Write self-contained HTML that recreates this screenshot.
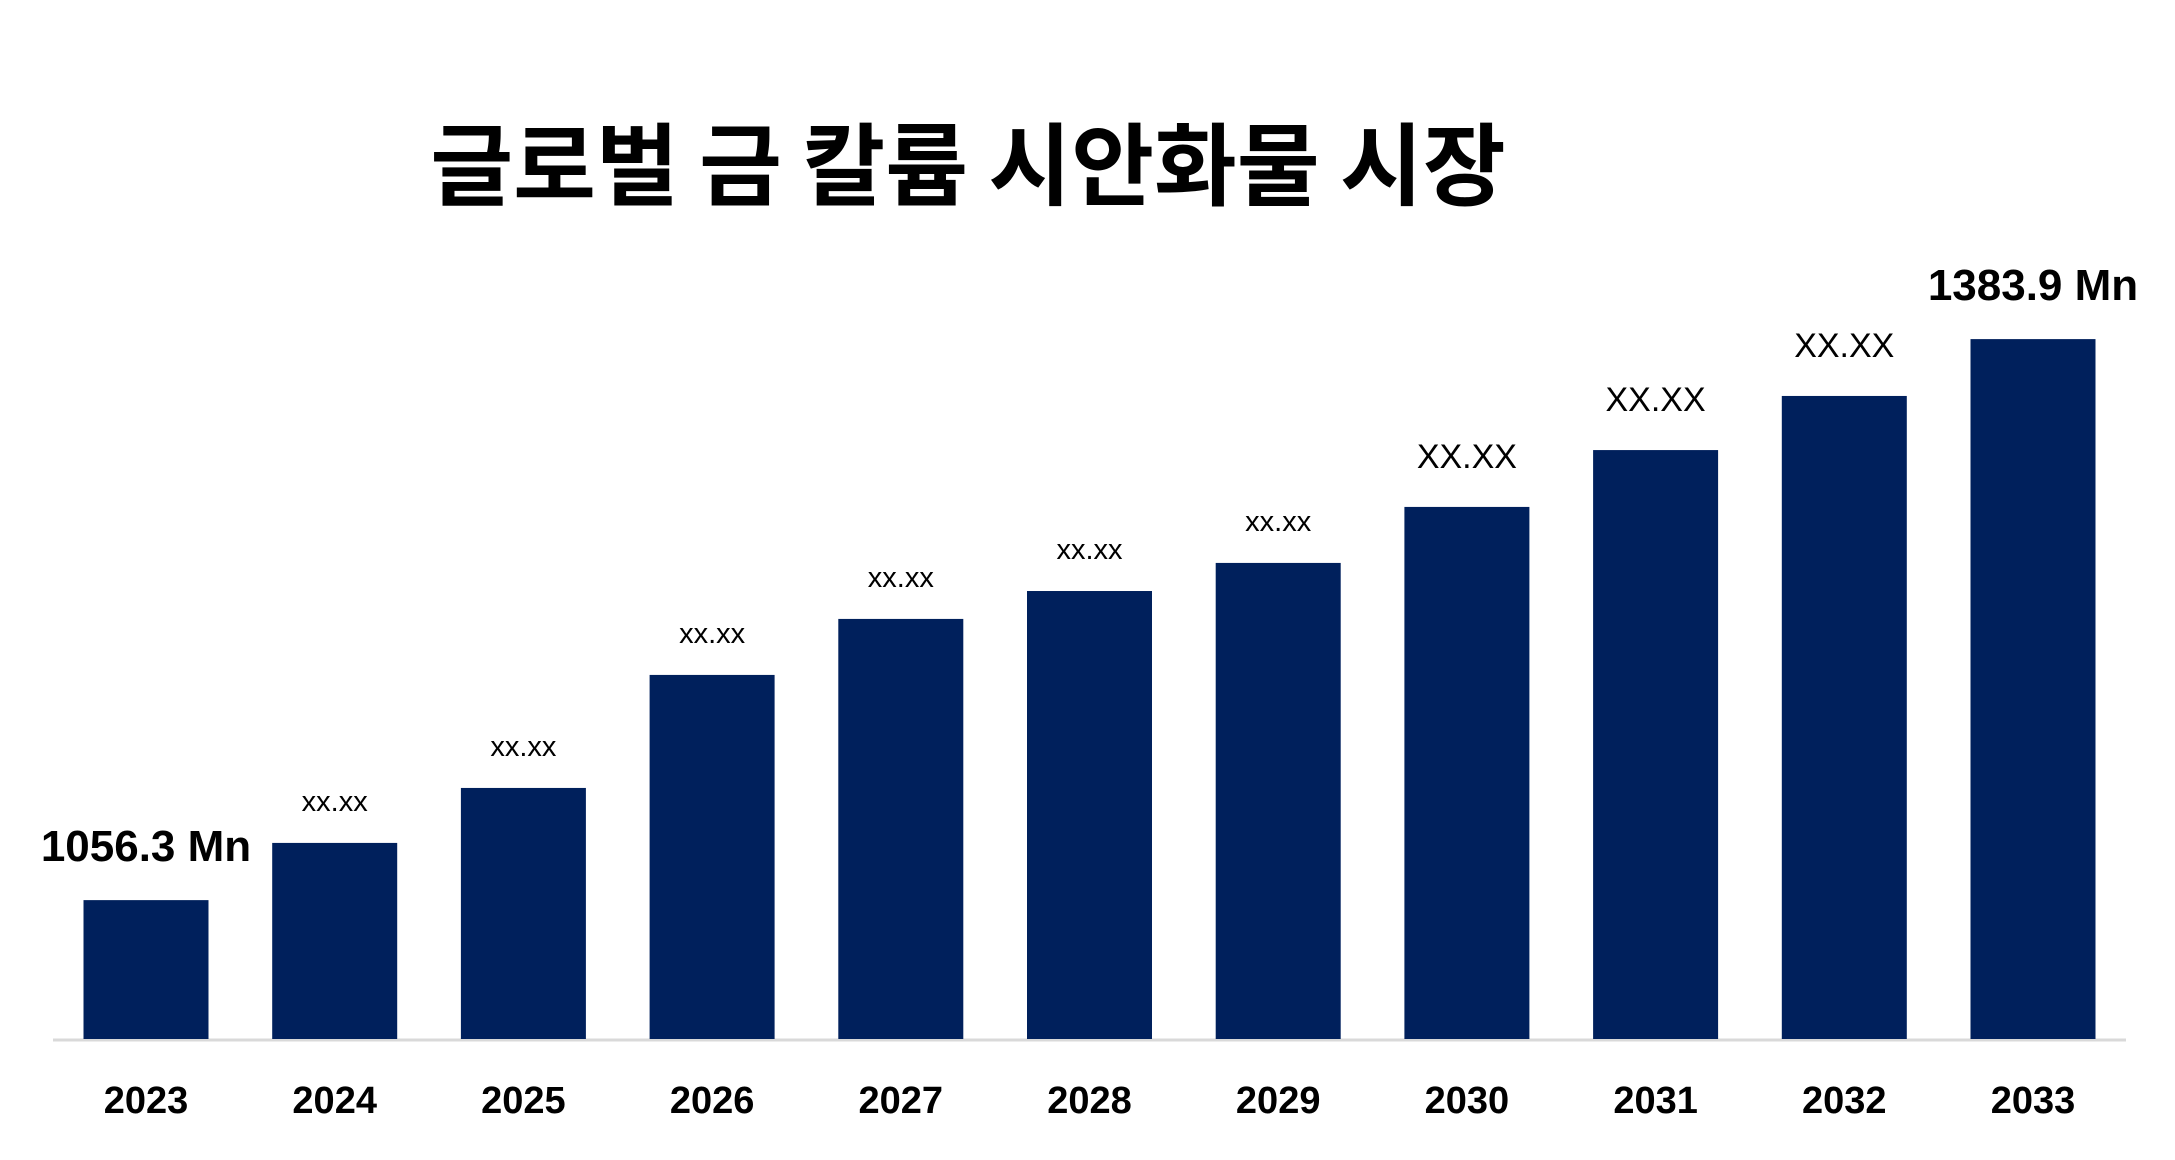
<!DOCTYPE html>
<html><head><meta charset="utf-8"><style>
body{margin:0;background:#fff;}
svg text{font-family:"Liberation Sans","Noto Sans CJK KR",sans-serif;}
</style></head><body>
<svg width="2175" height="1155" viewBox="0 0 2175 1155" xmlns="http://www.w3.org/2000/svg">
<text x="968" y="198" text-anchor="middle" font-size="90" font-weight="bold" fill="#000" style="font-family:'Noto Sans CJK KR',sans-serif">글로벌 금 칼륨 시안화물 시장</text>
<line x1="53" y1="1040" x2="2126" y2="1040" stroke="#d9d9d9" stroke-width="3"/>
<g id="bars"></g>
</svg>
<script>
const categories=["2023","2024","2025","2026","2027","2028","2029","2030","2031","2032","2033"];
const values=[1056.3,1089.7,1121.8,1187.8,1220.5,1236.8,1253.2,1285.9,1319.1,1350.7,1383.9];
const valueLabels=["1056.3 Mn","xx.xx","xx.xx","xx.xx","xx.xx","xx.xx","xx.xx","XX.XX","XX.XX","XX.XX","1383.9 Mn"];
const NS="http://www.w3.org/2000/svg";
const baseY=1039, x0=146, step=188.7, bw=125;
const vMin=975.2, k=1.7125;
function xPos(i){return x0+i*step;}
function yPos(v){return baseY-(v-vMin)*k;}
const g=document.getElementById('bars');
categories.forEach((c,i)=>{
  const cx=xPos(i), y=yPos(values[i]);
  const r=document.createElementNS(NS,'rect');
  
  
  r.setAttribute('x',cx-bw/2);r.setAttribute('y',y);
  r.setAttribute('width',bw);r.setAttribute('height',baseY-y);
  r.setAttribute('fill','#00205c');
  g.appendChild(r);
  const t=document.createElementNS(NS,'text');
  
  
  t.setAttribute('x',cx);t.setAttribute('y',1113);
  t.setAttribute('text-anchor','middle');t.setAttribute('font-size','38');t.setAttribute('font-weight','bold');
  t.textContent=c;g.appendChild(t);
  const l=document.createElementNS(NS,'text');
  
  
  const lab=valueLabels[i];
  const big=lab.indexOf('Mn')>=0, upper=lab==="XX.XX";
  l.setAttribute('x',cx);
  l.setAttribute('text-anchor','middle');
  if(big){l.setAttribute('font-size','44');l.setAttribute('font-weight','bold');l.setAttribute('y',y-39);}
  else if(upper){l.setAttribute('font-size','34');l.setAttribute('y',y-39);}
  else{l.setAttribute('font-size','29');l.setAttribute('y',y-32);}
  l.textContent=lab;g.appendChild(l);
});
</script>
</body></html>
